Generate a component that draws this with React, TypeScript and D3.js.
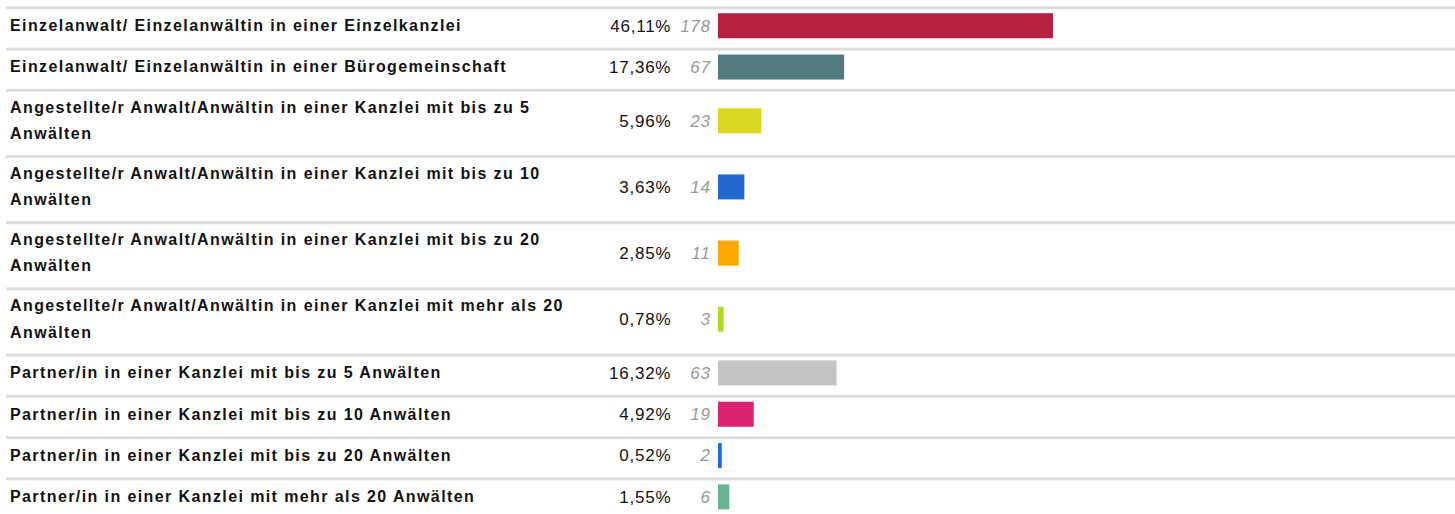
import React, { useEffect, useRef } from "react";
import * as d3 from "d3";

const categories = [
  "Einzelanwalt/ Einzelanwältin in einer Einzelkanzlei",
  "Einzelanwalt/ Einzelanwältin in einer Bürogemeinschaft",
  "Angestellte/r Anwalt/Anwältin in einer Kanzlei mit bis zu 5 Anwälten",
  "Angestellte/r Anwalt/Anwältin in einer Kanzlei mit bis zu 10 Anwälten",
  "Angestellte/r Anwalt/Anwältin in einer Kanzlei mit bis zu 20 Anwälten",
  "Angestellte/r Anwalt/Anwältin in einer Kanzlei mit mehr als 20 Anwälten",
  "Partner/in in einer Kanzlei mit bis zu 5 Anwälten",
  "Partner/in in einer Kanzlei mit bis zu 10 Anwälten",
  "Partner/in in einer Kanzlei mit bis zu 20 Anwälten",
  "Partner/in in einer Kanzlei mit mehr als 20 Anwälten",
];
const percentLabels = ["46,11%", "17,36%", "5,96%", "3,63%", "2,85%", "0,78%", "16,32%", "4,92%", "0,52%", "1,55%"];
const counts = [178, 67, 23, 14, 11, 3, 63, 19, 2, 6];
const colors = ["#b82042", "#517b81", "#dbd824", "#2368cf", "#ffa800", "#acdb20", "#c4c4c4", "#dc2273", "#1a70d8", "#68b394"];

const W = 1455;
const H = 514;
const FONT = "'Liberation Sans', Arial, sans-serif";
const LABEL_LS = 1.4;
const NUM_LS = 0.75;

function wrap(text: string, maxW: number, ctx: CanvasRenderingContext2D): string[] {
  const words = text.split(" ");
  const lines: string[] = [];
  let cur = "";
  const width = (s: string) => ctx.measureText(s).width + s.length * LABEL_LS;
  for (const w of words) {
    const t = cur ? cur + " " + w : w;
    if (width(t) > maxW && cur) {
      lines.push(cur);
      cur = w;
    } else cur = t;
  }
  if (cur) lines.push(cur);
  return lines;
}

export default function App() {
  const ref = useRef<SVGSVGElement>(null);
  useEffect(() => {
    const svg = d3.select(ref.current);
    svg.selectAll("*").remove();
    const canvas = document.createElement("canvas");
    const ctx = canvas.getContext("2d")!;
    ctx.font = `bold 16px ${FONT}`;

    const rowLine = 24.85;
    const textLine = 26.2;
    const pad = 16.45;
    const x = d3.scaleLinear().domain([0, d3.max(counts)!]).range([0, 335]);
    const barX = 718;

    let top = 6.3;
    categories.forEach((cat, i) => {
      const lines = wrap(cat, 590, ctx);
      const rh = pad + lines.length * rowLine;
      const g = svg.append("g");
      g.append("rect").attr("x", 6).attr("y", top).attr("width", W - 6).attr("height", 3).attr("fill", "#dddddd");
      const c = top + rh / 2 - 1.2;
      lines.forEach((ln, k) => {
        g.append("text")
          .attr("x", 10)
          .attr("y", c + (k - (lines.length - 1) / 2) * textLine + 5.3)
          .attr("font-family", FONT)
          .attr("font-size", 16)
          .attr("font-weight", "bold")
          .attr("letter-spacing", LABEL_LS)
          .attr("fill", "#111")
          .text(ln);
      });
      g.append("text")
        .attr("x", 670.5 + NUM_LS)
        .attr("y", c + 5.8)
        .attr("text-anchor", "end")
        .attr("font-family", FONT)
        .attr("font-size", 17)
        .attr("letter-spacing", NUM_LS)
        .attr("fill", "#111")
        .text(percentLabels[i]);
      g.append("text")
        .attr("x", 710 + NUM_LS)
        .attr("y", c + 5.8)
        .attr("text-anchor", "end")
        .attr("font-family", FONT)
        .attr("font-size", 17)
        .attr("font-style", "italic")
        .attr("letter-spacing", NUM_LS)
        .attr("fill", "#999")
        .text(String(counts[i]));
      g.append("rect")
        .attr("x", barX)
        .attr("y", c - 12.5)
        .attr("width", x(counts[i]))
        .attr("height", 25)
        .attr("fill", colors[i]);
      top += rh;
    });
  }, []);
  return (
    <svg
      ref={ref}
      width={W}
      height={H}
      style={{ position: "absolute", left: 0, top: 0, background: "#fff" }}
    />
  );
}
